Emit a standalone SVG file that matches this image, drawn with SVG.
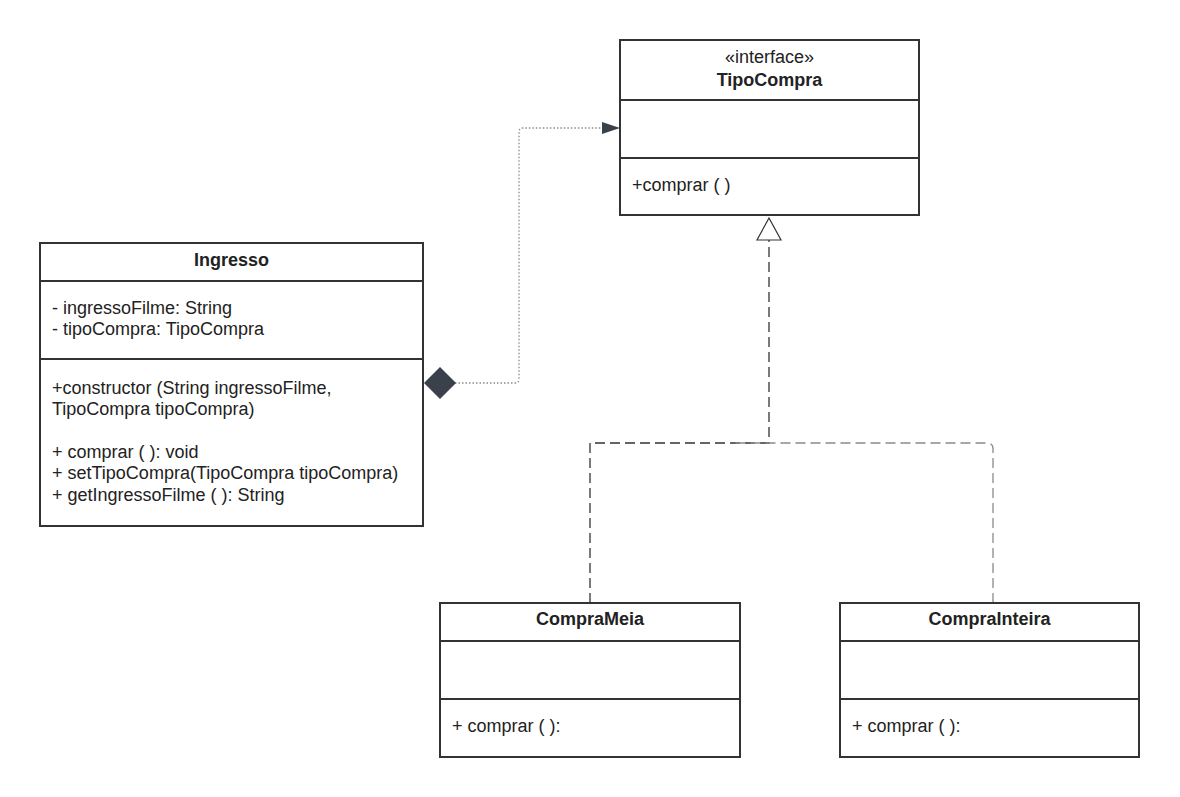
<svg xmlns="http://www.w3.org/2000/svg" width="1180" height="797" viewBox="0 0 1180 797">
  <style>
    .box { fill: #ffffff; stroke: #333333; stroke-width: 2; }
    .div { stroke: #333333; stroke-width: 2; }
    .txt { font-family: "Liberation Sans", Arial, sans-serif; font-size: 18px; fill: #222222; }
    .bold { font-weight: bold; }
    .mid { text-anchor: middle; }
    .dep { fill: none; stroke: #8a8a8a; stroke-width: 1.3; stroke-dasharray: 1.5 2; }
    .real { fill: none; stroke-width: 1.3; stroke-dasharray: 10 5; }
  </style>
  <defs>
    <marker id="arrowFilled" viewBox="0 0 18 14" refX="17" refY="7" markerWidth="18" markerHeight="14" markerUnits="userSpaceOnUse" orient="auto">
      <path d="M0,1 L18,7 L0,13 Z" fill="#3a414a"/>
    </marker>
  </defs>

  <rect width="1180" height="797" fill="#ffffff"/>

  <!-- connectors -->
  <g id="connectors">
    <!-- composition: Ingresso holds a TipoCompra -->
    <path class="dep" d="M455,383 L515,383 Q519,383 519,379 L519,132 Q519,128 523,128 L619,128" marker-end="url(#arrowFilled)"/>
    <polygon points="424,383 440,367 456,383 440,399" fill="#3a414a"/>
    <!-- realizations of TipoCompra -->
    <path class="real" stroke="#333333" d="M590,603 L590,443 L769,443 L769,240"/>
    <path class="real" stroke="#8a8a8a" d="M993,603 L993,449 Q993,443 987,443 L730,443"/>
    <polygon points="769,218 781,240 757,240" fill="#ffffff" stroke="#333333" stroke-width="1.2"/>
  </g>

  <!-- interface TipoCompra -->
  <g id="tipoCompra">
    <rect class="box" x="620" y="40" width="299" height="175"/>
    <line class="div" x1="620" y1="100" x2="919" y2="100"/>
    <line class="div" x1="620" y1="158" x2="919" y2="158"/>
    <text class="txt mid" x="769.5" y="63">«interface»</text>
    <text class="txt bold mid" x="769.5" y="86">TipoCompra</text>
    <text class="txt" x="632" y="191">+comprar ( )</text>
  </g>

  <!-- class Ingresso -->
  <g id="ingresso">
    <rect class="box" x="40" y="243" width="383" height="283"/>
    <line class="div" x1="40" y1="281" x2="423" y2="281"/>
    <line class="div" x1="40" y1="359" x2="423" y2="359"/>
    <text class="txt bold mid" x="231.5" y="266">Ingresso</text>
    <text class="txt" x="52" y="314">- ingressoFilme: String</text>
    <text class="txt" x="52" y="335">- tipoCompra: TipoCompra</text>
    <text class="txt" x="52" y="394">+constructor (String ingressoFilme,</text>
    <text class="txt" x="52" y="415">TipoCompra tipoCompra)</text>
    <text class="txt" x="52" y="458">+ comprar ( ): void</text>
    <text class="txt" x="52" y="479">+ setTipoCompra(TipoCompra tipoCompra)</text>
    <text class="txt" x="52" y="501">+ getIngressoFilme ( ): String</text>
  </g>

  <!-- class CompraMeia -->
  <g id="compraMeia">
    <rect class="box" x="440" y="603" width="300" height="154"/>
    <line class="div" x1="440" y1="641" x2="740" y2="641"/>
    <line class="div" x1="440" y1="699" x2="740" y2="699"/>
    <text class="txt bold mid" x="590" y="625">CompraMeia</text>
    <text class="txt" x="452" y="732">+ comprar ( ):</text>
  </g>

  <!-- class CompraInteira -->
  <g id="compraInteira">
    <rect class="box" x="840" y="603" width="299" height="154"/>
    <line class="div" x1="840" y1="641" x2="1139" y2="641"/>
    <line class="div" x1="840" y1="699" x2="1139" y2="699"/>
    <text class="txt bold mid" x="989.5" y="625">CompraInteira</text>
    <text class="txt" x="852" y="732">+ comprar ( ):</text>
  </g>
</svg>
